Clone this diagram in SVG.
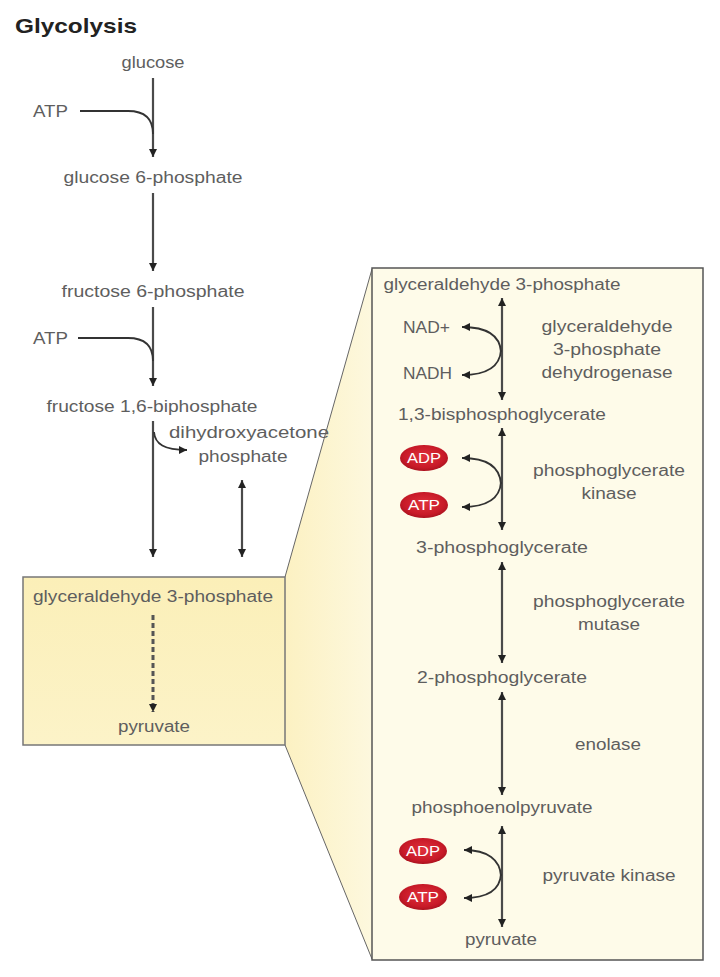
<svg xmlns="http://www.w3.org/2000/svg" width="720" height="977" viewBox="0 0 720 977">
<style>
.t{font-family:"Liberation Sans",Arial,sans-serif;font-size:16px;fill:#5e5e5e;text-anchor:middle}
.s{text-anchor:start}
.title{font-family:"Liberation Sans",Arial,sans-serif;font-size:21px;font-weight:bold;fill:#222}
.ln{fill:none;stroke:#4a4a4a;stroke-width:2.2}
.cv{fill:none;stroke:#333;stroke-width:1.8}
.dash{fill:none;stroke:#555;stroke-width:3;stroke-dasharray:5 3}
.pill{fill:url(#red)}
.pt{font-family:"Liberation Sans",Arial,sans-serif;font-size:14px;fill:#fff;text-anchor:middle}
</style>
<defs>
<marker id="ah" viewBox="0 0 10 10" refX="10" refY="5" markerWidth="10" markerHeight="8" markerUnits="userSpaceOnUse" orient="auto-start-reverse">
<path d="M0,0 L10,5 L0,10 z" fill="#222"/>
</marker>
<radialGradient id="red" cx="0.5" cy="0.45" r="0.6">
<stop offset="0" stop-color="#e0323c"/>
<stop offset="0.7" stop-color="#c81a28"/>
<stop offset="1" stop-color="#a0101c"/>
</radialGradient>
<linearGradient id="trap" x1="0" y1="0" x2="1" y2="0">
<stop offset="0" stop-color="#fcf1c2"/>
<stop offset="1" stop-color="#fdf8de"/>
</linearGradient>
<linearGradient id="sbox" x1="0" y1="0" x2="0" y2="1">
<stop offset="0" stop-color="#fbefb8"/>
<stop offset="1" stop-color="#fcf3c8"/>
</linearGradient>
</defs>
<rect width="720" height="977" fill="#fff"/>
<text class="title" x="15" y="33" textLength="122" lengthAdjust="spacingAndGlyphs">Glycolysis</text>

<g id="zoom-wedge">
<polygon points="285,577 372,269 372,959 285,745" fill="url(#trap)"/>
<line x1="285" y1="577" x2="372" y2="269" stroke="#666" stroke-width="1"/>
<line x1="285" y1="745" x2="372" y2="959" stroke="#666" stroke-width="1"/>
</g>

<g id="detail-box">
<rect x="372" y="268" width="331" height="692" fill="#fefbe9" stroke="#555" stroke-width="1.5"/>
</g>

<g id="summary-box">
<rect x="23" y="577" width="262" height="168" fill="url(#sbox)" stroke="#777" stroke-width="1.5"/>
</g>

<g id="connectors">
<path class="ln" d="M153,78 V157" marker-end="url(#ah)"/>
<path class="cv" d="M80,111 H128 C145,111 153,119 153,134"/>
<path class="ln" d="M153,193 V271" marker-end="url(#ah)"/>
<path class="ln" d="M153,307 V386" marker-end="url(#ah)"/>
<path class="cv" d="M78,338 H128 C145,338 153,346 153,361"/>
<path class="ln" d="M153,421 V557" marker-end="url(#ah)"/>
<path class="cv" d="M154,432 C155,444 164,450 187,450" marker-end="url(#ah)"/>
<path class="ln" d="M242,480 V557" marker-start="url(#ah)" marker-end="url(#ah)"/>
<path class="dash" d="M153,615 V712" marker-end="url(#ah)"/>

<path class="ln" d="M502,298 V400" marker-start="url(#ah)" marker-end="url(#ah)"/>
<path class="cv" d="M501,352 C500,336 488,327 462,327" marker-end="url(#ah)"/>
<path class="cv" d="M501,350 C500,366 488,375 462,375" marker-end="url(#ah)"/>

<path class="ln" d="M502,428 V530" marker-start="url(#ah)" marker-end="url(#ah)"/>
<path class="cv" d="M501,484 C500,468 488,458 462,458" marker-end="url(#ah)"/>
<path class="cv" d="M501,482 C500,498 488,507 462,507" marker-end="url(#ah)"/>

<path class="ln" d="M502,562 V663" marker-start="url(#ah)" marker-end="url(#ah)"/>
<path class="ln" d="M502,692 V795" marker-start="url(#ah)" marker-end="url(#ah)"/>

<path class="ln" d="M502,826 V927" marker-start="url(#ah)" marker-end="url(#ah)"/>
<path class="cv" d="M501,876 C500,860 488,850 464,850" marker-end="url(#ah)"/>
<path class="cv" d="M501,874 C500,890 488,898 464,898" marker-end="url(#ah)"/>
</g>

<g id="glucose"><text class="t" x="153" y="68" textLength="63" lengthAdjust="spacingAndGlyphs">glucose</text></g>
<g id="atp-1"><text class="t s" x="33" y="117" textLength="35" lengthAdjust="spacingAndGlyphs">ATP</text></g>
<g id="glucose-6-phosphate"><text class="t" x="153" y="183" textLength="179" lengthAdjust="spacingAndGlyphs">glucose 6-phosphate</text></g>
<g id="fructose-6-phosphate"><text class="t" x="153" y="297" textLength="183" lengthAdjust="spacingAndGlyphs">fructose 6-phosphate</text></g>
<g id="atp-2"><text class="t s" x="33" y="344" textLength="35" lengthAdjust="spacingAndGlyphs">ATP</text></g>
<g id="fructose-16-biphosphate"><text class="t" x="152" y="412" textLength="211" lengthAdjust="spacingAndGlyphs">fructose 1,6-biphosphate</text></g>
<g id="dhap"><text class="t" x="249" y="438" textLength="160" lengthAdjust="spacingAndGlyphs">dihydroxyacetone</text><text class="t" x="243" y="462" textLength="89" lengthAdjust="spacingAndGlyphs">phosphate</text></g>
<g id="g3p-summary"><text class="t" x="153" y="602" textLength="240" lengthAdjust="spacingAndGlyphs">glyceraldehyde 3-phosphate</text></g>
<g id="pyruvate-summary"><text class="t" x="154" y="732" textLength="72" lengthAdjust="spacingAndGlyphs">pyruvate</text></g>

<g id="g3p"><text class="t" x="502" y="290" textLength="237" lengthAdjust="spacingAndGlyphs">glyceraldehyde 3-phosphate</text></g>
<g id="nad"><text class="t s" x="403" y="333" textLength="47" lengthAdjust="spacingAndGlyphs">NAD+</text></g>
<g id="nadh"><text class="t s" x="403" y="379" textLength="49" lengthAdjust="spacingAndGlyphs">NADH</text></g>
<g id="enz-gapdh"><text class="t" x="607" y="332" textLength="131" lengthAdjust="spacingAndGlyphs">glyceraldehyde</text><text class="t" x="607" y="355" textLength="108" lengthAdjust="spacingAndGlyphs">3-phosphate</text><text class="t" x="607" y="378" textLength="131" lengthAdjust="spacingAndGlyphs">dehydrogenase</text></g>
<g id="bpg"><text class="t" x="502" y="420" textLength="208" lengthAdjust="spacingAndGlyphs">1,3-bisphosphoglycerate</text></g>
<g id="adp-1"><ellipse class="pill" cx="424" cy="458" rx="24" ry="13"/><text class="pt" x="424" y="463" textLength="34" lengthAdjust="spacingAndGlyphs">ADP</text></g>
<g id="atp-3"><ellipse class="pill" cx="424" cy="505" rx="24" ry="13"/><text class="pt" x="424" y="510" textLength="32" lengthAdjust="spacingAndGlyphs">ATP</text></g>
<g id="enz-pgk"><text class="t" x="609" y="476" textLength="152" lengthAdjust="spacingAndGlyphs">phosphoglycerate</text><text class="t" x="609" y="499" textLength="55" lengthAdjust="spacingAndGlyphs">kinase</text></g>
<g id="pg3"><text class="t" x="502" y="553" textLength="172" lengthAdjust="spacingAndGlyphs">3-phosphoglycerate</text></g>
<g id="enz-pgm"><text class="t" x="609" y="607" textLength="152" lengthAdjust="spacingAndGlyphs">phosphoglycerate</text><text class="t" x="609" y="630" textLength="62" lengthAdjust="spacingAndGlyphs">mutase</text></g>
<g id="pg2"><text class="t" x="502" y="683" textLength="170" lengthAdjust="spacingAndGlyphs">2-phosphoglycerate</text></g>
<g id="enz-enolase"><text class="t" x="608" y="750" textLength="66" lengthAdjust="spacingAndGlyphs">enolase</text></g>
<g id="pep"><text class="t" x="502" y="813" textLength="181" lengthAdjust="spacingAndGlyphs">phosphoenolpyruvate</text></g>
<g id="adp-2"><ellipse class="pill" cx="423" cy="851" rx="24" ry="13"/><text class="pt" x="423" y="856" textLength="34" lengthAdjust="spacingAndGlyphs">ADP</text></g>
<g id="atp-4"><ellipse class="pill" cx="423" cy="897" rx="24" ry="13"/><text class="pt" x="423" y="902" textLength="32" lengthAdjust="spacingAndGlyphs">ATP</text></g>
<g id="enz-pk"><text class="t" x="609" y="881" textLength="133" lengthAdjust="spacingAndGlyphs">pyruvate kinase</text></g>
<g id="pyruvate"><text class="t" x="501" y="945" textLength="72" lengthAdjust="spacingAndGlyphs">pyruvate</text></g>
</svg>
